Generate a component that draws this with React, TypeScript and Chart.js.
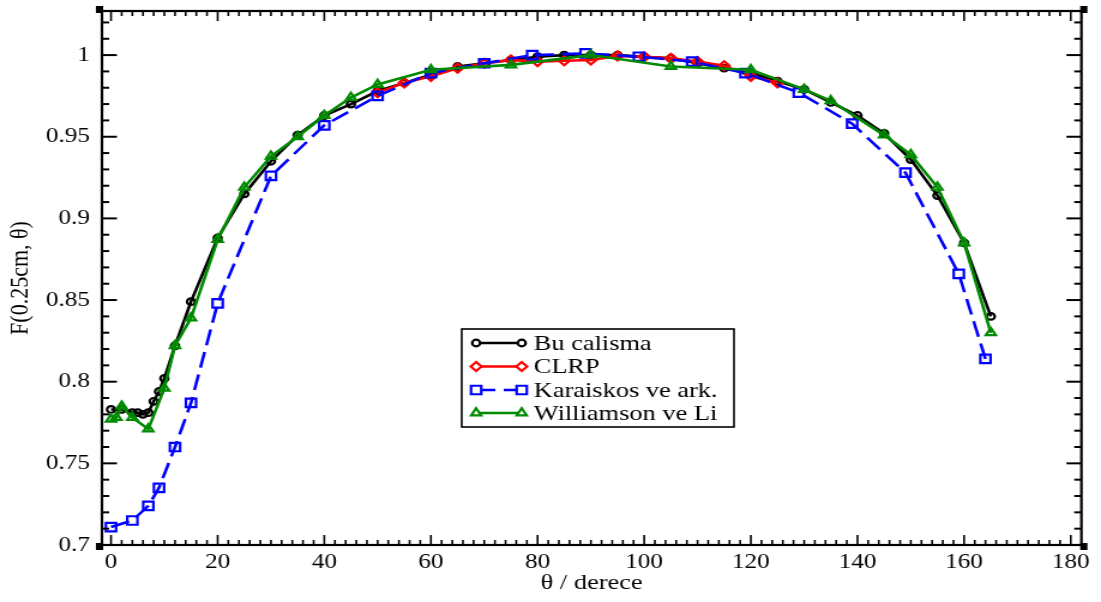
import React, { useEffect, useRef } from "react";
import { Chart, registerables } from "chart.js";

Chart.register(...registerables);

// Output size and horizontal stretch of the drawing surface
const OUT_W = 1101;
const OUT_H = 602;
const STRETCH = 1.2;
const CANVAS_W = Math.round(OUT_W / STRETCH);

// Bu calisma
const buAngles = [0, 2, 4, 5, 6, 7, 8, 9, 10, 12, 15, 20, 25, 30, 35, 40, 45, 50, 55, 60, 65, 70, 75, 80, 85, 90, 95, 100, 105, 110, 115, 120, 125, 130, 135, 140, 145, 150, 155, 160, 165];
const buValues = [0.783, 0.783, 0.781, 0.781, 0.780, 0.781, 0.788, 0.794, 0.802, 0.822, 0.849, 0.888, 0.915, 0.935, 0.951, 0.963, 0.970, 0.978, 0.983, 0.988, 0.993, 0.995, 0.997, 0.999, 1.000, 1.000, 1.000, 0.999, 0.998, 0.995, 0.992, 0.989, 0.984, 0.979, 0.971, 0.963, 0.952, 0.936, 0.914, 0.885, 0.840];

// CLRP
const clrpAngles = [50, 55, 60, 65, 70, 75, 80, 85, 90, 95, 100, 105, 110, 115, 120, 125];
const clrpValues = [0.977, 0.983, 0.987, 0.992, 0.995, 0.997, 0.996, 0.9965, 0.997, 0.9995, 0.999, 0.998, 0.996, 0.9935, 0.987, 0.983];

// Karaiskos ve ark.
const karAngles = [0, 4, 7, 9, 12, 15, 20, 30, 40, 50, 60, 70, 79, 89, 99, 109, 119, 129, 139, 149, 159, 164];
const karValues = [0.711, 0.715, 0.724, 0.735, 0.760, 0.787, 0.848, 0.926, 0.957, 0.975, 0.989, 0.995, 1.000, 1.001, 0.999, 0.996, 0.989, 0.977, 0.958, 0.928, 0.866, 0.814];

// Williamson ve Li
const wlAngles = [0, 1, 2, 4, 7, 10, 12, 15, 20, 25, 30, 35, 40, 45, 50, 60, 75, 90, 105, 120, 130, 135, 145, 150, 155, 160, 165];
const wlValues = [0.777, 0.778, 0.785, 0.778, 0.771, 0.796, 0.822, 0.839, 0.887, 0.919, 0.938, 0.950, 0.963, 0.974, 0.982, 0.991, 0.994, 1.000, 0.993, 0.991, 0.979, 0.972, 0.951, 0.939, 0.919, 0.885, 0.830];

const seriesLabels = ["Bu calisma", "CLRP", "Karaiskos ve ark.", "Williamson ve Li"];

const xTickValues = [0, 20, 40, 60, 80, 100, 120, 140, 160, 180];
const yTickValues = [0.7, 0.75, 0.8, 0.85, 0.9, 0.95, 1.0];
const yTickLabels = ["0.7", "0.75", "0.8", "0.85", "0.9", "0.95", "1"];

const X_MIN = -1.7;
const X_MAX = 182;
const Y_MIN = 0.7;
const Y_MAX = 1.027;

const FONT_FAMILY = "'Liberation Serif', 'Times New Roman', serif";

const BLACK = "#000000";
const RED = "#ff0000";
const BLUE = "#0000ff";
const GREEN = "#008a00";

type Style = {
  color: string;
  shape: "circle" | "rectRot" | "rect" | "triangle";
  radius: number;
  dash: number[];
};

const styles: Style[] = [
  { color: BLACK, shape: "circle", radius: 3.3, dash: [] },
  { color: RED, shape: "rectRot", radius: 4.5, dash: [] },
  { color: BLUE, shape: "rect", radius: 6, dash: [16, 7] },
  { color: GREEN, shape: "triangle", radius: 4.8, dash: [] },
];

const toPoints = (xs: number[], ys: number[]) => xs.map((x, i) => ({ x, y: ys[i] }));

// Hand-drawn marker for the legend, same shapes as the chart's points
function drawMarker(ctx: CanvasRenderingContext2D, s: Style, x: number, y: number) {
  const r = s.radius;
  ctx.beginPath();
  if (s.shape === "circle") {
    ctx.arc(x, y, r, 0, Math.PI * 2);
  } else if (s.shape === "rectRot") {
    ctx.moveTo(x, y - r);
    ctx.lineTo(x + r, y);
    ctx.lineTo(x, y + r);
    ctx.lineTo(x - r, y);
    ctx.closePath();
  } else if (s.shape === "rect") {
    const h = r * Math.SQRT1_2;
    ctx.rect(x - h, y - h, 2 * h, 2 * h);
  } else {
    const w = r * Math.sin(Math.PI / 3);
    ctx.moveTo(x, y - r);
    ctx.lineTo(x + w, y + r / 2);
    ctx.lineTo(x - w, y + r / 2);
    ctx.closePath();
  }
  ctx.fillStyle = "#ffffff";
  ctx.fill();
  ctx.stroke();
}

// Frame with inward ticks on all four sides, xmgrace style
const framePlugin = {
  id: "frameTicks",
  afterDatasetsDraw(chart: any) {
    const { ctx, chartArea: a, scales } = chart;
    const xs = scales.x;
    const ys = scales.y;
    const seg = (x1: number, y1: number, x2: number, y2: number) => {
      ctx.beginPath();
      ctx.moveTo(x1, y1);
      ctx.lineTo(x2, y2);
      ctx.stroke();
    };
    ctx.save();
    ctx.strokeStyle = "#000";
    ctx.setLineDash([]);

    ctx.lineWidth = 1.6;
    for (let v = 0; v <= 180; v += 2) {
      const px = xs.getPixelForValue(v);
      const len = v % 20 === 0 ? 10 : 5;
      seg(px, a.bottom, px, a.bottom - len);
      seg(px, a.top, px, a.top + len);
    }

    ctx.lineWidth = 2;
    for (let i = 70; i <= 102; i++) {
      const py = ys.getPixelForValue(i / 100);
      const len = i % 5 === 0 ? 12.5 : 6;
      seg(a.left, py, a.left + len, py);
      seg(a.right, py, a.right - len, py);
    }

    ctx.lineWidth = 2.2;
    ctx.strokeRect(a.left, a.top, a.right - a.left, a.bottom - a.top);

    ctx.fillStyle = "#000";
    const cw = 6;
    const ch = 7;
    ctx.fillRect(a.left - cw + 1, a.top - ch + 2, cw, ch);
    ctx.fillRect(a.right - 1, a.top - ch + 2, cw, ch);
    ctx.fillRect(a.left - cw + 1, a.bottom - 2, cw, ch);
    ctx.fillRect(a.right - 1, a.bottom - 2, cw, ch);
    ctx.restore();
  },
};

// Boxed legend inside the plot, line with a marker at each end
const legendPlugin = {
  id: "boxLegend",
  afterDraw(chart: any) {
    const { ctx } = chart;
    const boxX = 385;
    const boxY = 329;
    const boxW = 227;
    const boxH = 98;
    const rowY = [343, 366.5, 390, 413];
    const lineX1 = 397;
    const lineX2 = 435;
    const textX = 445;
    ctx.save();
    ctx.fillStyle = "#ffffff";
    ctx.fillRect(boxX, boxY, boxW, boxH);
    ctx.strokeStyle = "#000";
    ctx.lineWidth = 1.6;
    ctx.strokeRect(boxX, boxY, boxW, boxH);
    ctx.font = `22px ${FONT_FAMILY}`;
    ctx.textBaseline = "middle";
    ctx.textAlign = "left";
    seriesLabels.forEach((label, i) => {
      const s = styles[i];
      const y = rowY[i];
      ctx.strokeStyle = s.color;
      ctx.lineWidth = 2.6;
      ctx.setLineDash(s.dash);
      ctx.beginPath();
      ctx.moveTo(lineX1, y);
      ctx.lineTo(lineX2, y);
      ctx.stroke();
      ctx.setLineDash([]);
      ctx.lineWidth = 2.2;
      drawMarker(ctx, s, lineX1, y);
      drawMarker(ctx, s, lineX2, y);
      ctx.fillStyle = "#000";
      ctx.fillText(label, textX, y + 1);
    });
    ctx.restore();
  },
};

export default function App() {
  const canvasRef = useRef<HTMLCanvasElement | null>(null);

  useEffect(() => {
    document.body.style.margin = "0";
    const canvas = canvasRef.current;
    if (!canvas) return;

    const seriesData = [
      toPoints(buAngles, buValues),
      toPoints(clrpAngles, clrpValues),
      toPoints(karAngles, karValues),
      toPoints(wlAngles, wlValues),
    ];
    const drawOrder = [3, 2, 1, 0];

    const chart = new Chart(canvas, {
      type: "line",
      data: {
        datasets: seriesData.map((data, i) => ({
          label: seriesLabels[i],
          data,
          order: drawOrder[i],
          borderColor: styles[i].color,
          borderWidth: 2.6,
          borderDash: styles[i].dash,
          tension: 0,
          fill: false,
          pointStyle: styles[i].shape,
          pointRadius: styles[i].radius,
          pointBorderWidth: 2.2,
          pointBorderColor: styles[i].color,
          pointBackgroundColor: "rgba(255,255,255,0)",
        })),
      },
      options: {
        responsive: false,
        animation: false,
        devicePixelRatio: 1,
        layout: { padding: { top: 11, right: CANVAS_W - 1082 / STRETCH, left: 0, bottom: 0 } },
        plugins: {
          legend: { display: false },
          tooltip: { enabled: false },
        },
        scales: {
          x: {
            type: "linear",
            min: X_MIN,
            max: X_MAX,
            afterBuildTicks: (scale: any) => {
              scale.ticks = xTickValues.map((value) => ({ value }));
            },
            afterFit: (scale: any) => {
              scale.height = OUT_H - 545;
              scale.paddingLeft = 0;
              scale.paddingRight = 0;
            },
            grid: { display: false, drawTicks: false, tickLength: 0 },
            border: { display: false },
            ticks: {
              color: "#000",
              padding: 5,
              maxRotation: 0,
              autoSkip: false,
              font: { family: FONT_FAMILY, size: 21 },
              callback: (value: any) => String(value),
            },
            title: {
              display: true,
              text: "θ / derece",
              color: "#000",
              padding: { top: 0, bottom: 6 },
              font: { family: FONT_FAMILY, size: 22 },
            },
          },
          y: {
            type: "linear",
            min: Y_MIN,
            max: Y_MAX,
            afterBuildTicks: (scale: any) => {
              scale.ticks = yTickValues.map((value) => ({ value }));
            },
            afterFit: (scale: any) => {
              scale.width = 102 / STRETCH;
              scale.paddingTop = 0;
              scale.paddingBottom = 0;
            },
            grid: { display: false, drawTicks: false, tickLength: 0 },
            border: { display: false },
            ticks: {
              color: "#000",
              padding: 10,
              autoSkip: false,
              font: { family: FONT_FAMILY, size: 21 },
              callback: (_value: any, index: number) => yTickLabels[index],
            },
            title: {
              display: true,
              text: "F(0.25cm, θ)",
              color: "#000",
              padding: { top: 4, bottom: 0 },
              font: { family: FONT_FAMILY, size: 22 },
            },
          },
        },
      },
      plugins: [framePlugin, legendPlugin],
    });

    return () => {
      chart.destroy();
    };
  }, []);

  return (
    <div style={{ width: OUT_W, height: OUT_H, overflow: "hidden", background: "#fff" }}>
      <canvas
        ref={canvasRef}
        width={CANVAS_W}
        height={OUT_H}
        style={{ display: "block", width: `${OUT_W}px`, height: `${OUT_H}px` }}
      />
    </div>
  );
}
